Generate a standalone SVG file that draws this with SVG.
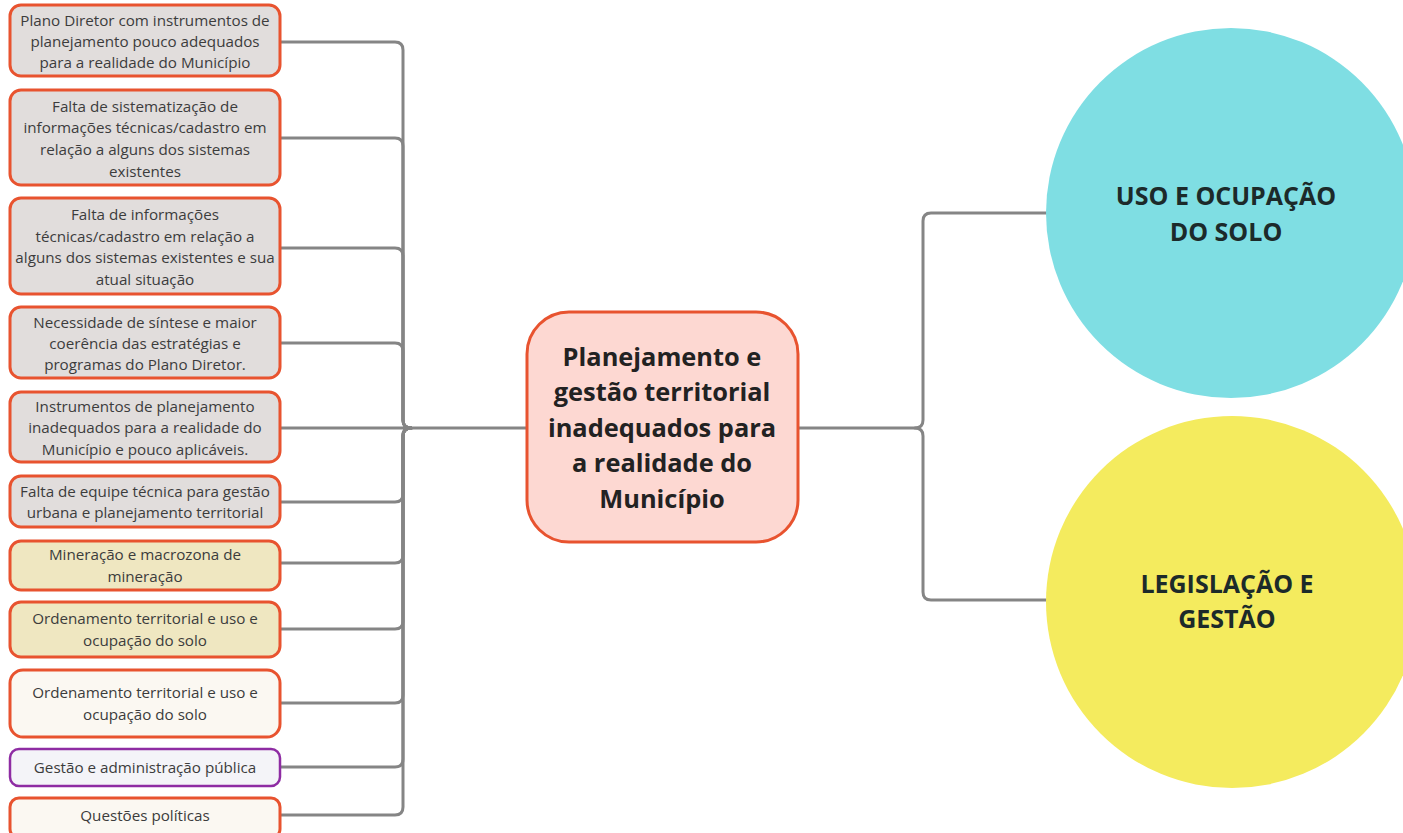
<svg xmlns="http://www.w3.org/2000/svg" width="1403" height="833" viewBox="0 0 1403 833">
<style>
.n{stroke:#e8532f;stroke-width:3}
.g{fill:#e1dddc}
.t{fill:#efe7c1}
.c{fill:#fbf8f2}
.lt{font-family:"Open Sans","Noto Sans",sans-serif;font-size:15.2px;fill:#3c3c3c;text-anchor:middle}
.ct{font-family:"Open Sans","Noto Sans",sans-serif;font-size:25.4px;font-weight:bold;fill:#222;text-anchor:middle}
.rt{font-family:"Open Sans","Noto Sans",sans-serif;font-size:25px;font-weight:bold;fill:#1c2a2a;text-anchor:middle}
.e{fill:none;stroke:#858585;stroke-width:3;stroke-linecap:round;stroke-linejoin:round}
</style>
<rect width="1403" height="833" fill="#ffffff"/>
<g id="connectors">
<path class="e" d="M411 428 Q403 428 403 420 L403 50 Q403 42 395 42 L280 42"/>
<path class="e" d="M411 428 Q403 428 403 420 L403 146 Q403 138 395 138 L280 138"/>
<path class="e" d="M411 428 Q403 428 403 420 L403 256 Q403 248 395 248 L280 248"/>
<path class="e" d="M411 428 Q403 428 403 420 L403 351 Q403 343 395 343 L280 343"/>
<path class="e" d="M280 428 L527 428"/>
<path class="e" d="M411 428 Q403 428 403 436 L403 494 Q403 502 395 502 L280 502"/>
<path class="e" d="M411 428 Q403 428 403 436 L403 555 Q403 563 395 563 L280 563"/>
<path class="e" d="M411 428 Q403 428 403 436 L403 621 Q403 629 395 629 L280 629"/>
<path class="e" d="M411 428 Q403 428 403 436 L403 695 Q403 703 395 703 L280 703"/>
<path class="e" d="M411 428 Q403 428 403 436 L403 759 Q403 767 395 767 L280 767"/>
<path class="e" d="M411 428 Q403 428 403 436 L403 807 Q403 815 395 815 L280 815"/>
<path class="e" d="M798 428 L915 428 Q923 428 923 420 L923 221 Q923 213 931 213 L1046 213"/>
<path class="e" d="M915 428 Q923 428 923 436 L923 592 Q923 600 931 600 L1046 600"/>
</g>
<g id="n1"><rect class="n g" x="10" y="5" width="270" height="71" rx="11"/>
<text class="lt"><tspan x="145" y="26">Plano Diretor com instrumentos de</tspan><tspan x="145" y="47">planejamento pouco adequados</tspan><tspan x="145" y="68">para a realidade do Município</tspan></text></g>
<g id="n2"><rect class="n g" x="10" y="90" width="270" height="95" rx="11"/>
<text class="lt"><tspan x="145" y="112">Falta de sistematização de</tspan><tspan x="145" y="133">informações técnicas/cadastro em</tspan><tspan x="145" y="155">relação a alguns dos sistemas</tspan><tspan x="145" y="177">existentes</tspan></text></g>
<g id="n3"><rect class="n g" x="10" y="198" width="270" height="96" rx="11"/>
<text class="lt"><tspan x="145" y="220">Falta de informações</tspan><tspan x="145" y="242">técnicas/cadastro em relação a</tspan><tspan x="145" y="263">alguns dos sistemas existentes e sua</tspan><tspan x="145" y="285">atual situação</tspan></text></g>
<g id="n4"><rect class="n g" x="10" y="307" width="270" height="71" rx="11"/>
<text class="lt"><tspan x="145" y="328">Necessidade de síntese e maior</tspan><tspan x="145" y="349">coerência das estratégias e</tspan><tspan x="145" y="370">programas do Plano Diretor.</tspan></text></g>
<g id="n5"><rect class="n g" x="10" y="392" width="270" height="70" rx="11"/>
<text class="lt"><tspan x="145" y="412">Instrumentos de planejamento</tspan><tspan x="145" y="433">inadequados para a realidade do</tspan><tspan x="145" y="455">Município e pouco aplicáveis.</tspan></text></g>
<g id="n6"><rect class="n g" x="10" y="476" width="270" height="51" rx="11"/>
<text class="lt"><tspan x="145" y="497">Falta de equipe técnica para gestão</tspan><tspan x="145" y="518">urbana e planejamento territorial</tspan></text></g>
<g id="n7"><rect class="n t" x="10" y="541" width="270" height="49" rx="11"/>
<text class="lt"><tspan x="145" y="560">Mineração e macrozona de</tspan><tspan x="145" y="582">mineração</tspan></text></g>
<g id="n8"><rect class="n t" x="10" y="602" width="270" height="55" rx="11"/>
<text class="lt"><tspan x="145" y="624">Ordenamento territorial e uso e</tspan><tspan x="145" y="646">ocupação do solo</tspan></text></g>
<g id="n9"><rect class="n c" x="10" y="670" width="270" height="67" rx="13"/>
<text class="lt"><tspan x="145" y="698">Ordenamento territorial e uso e</tspan><tspan x="145" y="720">ocupação do solo</tspan></text></g>
<g id="n10"><rect x="10" y="749" width="270" height="37" rx="9" fill="#f4f4f8" stroke="#8e2ca3" stroke-width="2.5"/>
<text class="lt" x="145" y="773">Gestão e administração pública</text></g>
<g id="n11"><rect class="n c" x="10" y="798" width="270" height="40" rx="9"/>
<text class="lt" x="145" y="821">Questões políticas</text></g>
<g id="center"><rect x="527" y="312" width="271" height="230" rx="42" fill="#fdd8d2" stroke="#e8532f" stroke-width="3"/>
<text class="ct"><tspan x="662" y="366">Planejamento e</tspan><tspan x="662" y="401">gestão territorial</tspan><tspan x="662" y="437">inadequados para</tspan><tspan x="662" y="472">a realidade do</tspan><tspan x="662" y="508">Município</tspan></text></g>
<g id="uso"><circle cx="1231" cy="213" r="185" fill="#7fdee3"/>
<text class="rt"><tspan x="1226" y="205">USO E OCUPAÇÃO</tspan><tspan x="1226" y="241">DO SOLO</tspan></text></g>
<g id="leg"><circle cx="1232" cy="602" r="186" fill="#f4eb5e"/>
<text class="rt"><tspan x="1227" y="593">LEGISLAÇÃO E</tspan><tspan x="1227" y="628">GESTÃO</tspan></text></g>
</svg>
